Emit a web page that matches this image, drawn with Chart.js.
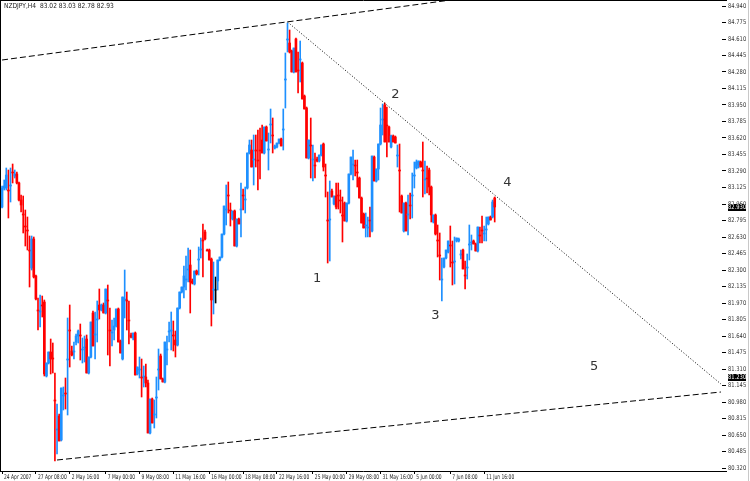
<!DOCTYPE html>
<html>
<head>
<meta charset="utf-8">
<style>
html, body { margin: 0; padding: 0; background: #fff; overflow: hidden; }
canvas { display: block; }
</style>
<script src="https://cdn.jsdelivr.net/npm/chart.js@4.4.1/dist/chart.umd.min.js"></script>
</head>
<body>
<canvas id="myChart" width="750" height="481"></canvas>
<script>
// H4 bars (one slot per bar, 341 slots across the plot)
const opens = [
  82.93, 83.12, 83.12, 83.10, 83.14, 83.28, 83.24, 83.26, 83.17, 83.00,
  82.86, 82.74, 82.70, 82.50, 82.32, 82.61, 82.24, 81.90, 81.88, 81.95,
  81.98, 81.24, 81.37, 81.48, 81.42, 81.00, 80.70, 80.84, 80.60, 81.04,
  81.07, 81.40, 81.70, 81.49, 81.48, 81.58, 81.64, 81.65, 81.50, 81.52,
  81.61, 81.27, 81.43, 81.87, 81.65, 81.80, 81.95, 81.90, 81.95, 81.87,
  82.00, 81.70, 81.67, 81.70, 81.74, 81.91, 81.59, 81.41, 82.00, 82.00,
  81.80, 81.65, 81.62, 81.67, 81.26, 81.30, 81.23, 81.23, 81.23, 81.17,
  80.67, 81.01, 80.85, 81.02, 81.30, 81.44, 81.21, 81.18, 81.50, 81.68,
  81.69, 81.65, 81.60, 81.55, 81.92, 82.08, 82.13, 82.20, 82.30, 82.35,
  82.19, 82.16, 82.29, 82.40, 82.50, 82.60, 82.68, 82.50, 82.50, 82.41,
  82.10, 82.10, 82.19, 82.40, 82.43, 82.66, 82.90, 83.05, 82.90, 82.81,
  82.89, 82.54, 82.81, 82.90, 83.05, 83.00, 83.12, 83.47, 83.50, 83.40,
  83.50, 83.40, 83.50, 83.60, 83.47, 83.73, 83.50, 83.75, 83.65, 83.52,
  83.53, 83.57, 83.61, 83.70, 84.20, 84.60, 84.57, 84.49, 84.28, 84.61,
  84.30, 84.40, 84.37, 84.04, 83.92, 83.42, 83.55, 83.40, 83.35, 83.41,
  83.39, 83.45, 83.56, 83.25, 82.80, 82.80, 83.09, 82.96, 83.04, 83.05,
  83.00, 82.85, 82.97, 82.79, 82.97, 83.26, 83.35, 83.35, 83.28, 83.22,
  83.02, 82.86, 82.74, 82.72, 82.80, 82.69, 83.43, 83.19, 83.31, 83.56,
  83.80, 83.95, 83.75, 83.73, 83.53, 83.64, 83.63, 83.44, 83.30, 83.04,
  82.69, 82.97, 82.85, 82.95, 83.04, 83.24, 83.32, 83.35, 83.38, 83.30,
  83.20, 83.22, 83.30, 83.13, 82.78, 82.85, 82.60, 82.45, 82.20, 82.33,
  82.42, 82.48, 82.55, 82.38, 82.38, 82.59, 82.59, 82.45, 82.50, 82.25,
  82.32, 82.55, 82.57, 82.59, 82.56, 82.49, 82.65, 82.70, 82.66, 82.70,
  82.76, 82.83, 82.83, 83.02
];
const highs = [
  83.14, 83.20, 83.32, 83.30, 83.32, 83.36, 83.30, 83.28, 83.18, 83.05,
  83.04, 82.90, 82.83, 82.64, 82.64, 82.63, 82.25, 82.02, 82.05, 82.04,
  82.00, 81.37, 81.48, 81.61, 81.57, 81.27, 80.96, 80.86, 81.12, 81.13,
  81.22, 81.82, 81.95, 81.54, 81.58, 81.66, 81.70, 81.76, 81.62, 81.64,
  81.65, 81.43, 81.78, 81.89, 81.88, 81.99, 82.11, 81.96, 81.97, 82.11,
  82.15, 81.92, 81.80, 81.82, 81.91, 81.92, 81.60, 82.03, 82.30, 82.08,
  81.99, 81.67, 81.67, 81.68, 81.33, 81.43, 81.41, 81.34, 81.36, 81.20,
  81.01, 81.02, 81.00, 81.23, 81.51, 81.46, 81.22, 81.58, 81.64, 81.78,
  81.88, 81.79, 81.69, 81.92, 82.08, 82.13, 82.34, 82.44, 82.52, 82.50,
  82.21, 82.29, 82.30, 82.53, 82.62, 82.76, 82.70, 82.51, 82.51, 82.42,
  82.38, 82.23, 82.40, 82.43, 82.66, 82.94, 83.15, 83.18, 82.97, 82.89,
  82.90, 82.81, 82.82, 83.17, 83.11, 83.13, 83.47, 83.60, 83.60, 83.65,
  83.65, 83.70, 83.72, 83.75, 83.73, 83.74, 83.67, 83.91, 83.82, 83.55,
  83.57, 83.61, 83.62, 83.91, 84.47, 84.77, 84.70, 84.50, 84.52, 84.62,
  84.48, 84.59, 84.38, 84.05, 83.93, 83.60, 83.82, 83.55, 83.47, 83.43,
  83.45, 83.55, 83.57, 83.36, 83.08, 83.19, 83.11, 83.04, 83.17, 83.17,
  83.10, 83.03, 82.98, 82.97, 83.26, 83.43, 83.50, 83.40, 83.40, 83.23,
  83.03, 82.87, 82.87, 82.83, 82.93, 83.44, 83.44, 83.31, 83.56, 83.92,
  83.96, 83.97, 83.93, 83.74, 83.65, 83.65, 83.64, 83.55, 83.56, 83.05,
  82.97, 82.98, 83.05, 83.07, 83.27, 83.38, 83.40, 83.39, 83.39, 83.58,
  83.39, 83.34, 83.32, 83.14, 82.85, 82.86, 82.75, 82.67, 82.42, 82.42,
  82.50, 82.59, 82.74, 82.59, 82.63, 82.62, 82.62, 82.50, 82.51, 82.39,
  82.46, 82.75, 82.65, 82.60, 82.57, 82.73, 82.73, 82.84, 82.74, 82.83,
  82.83, 82.84, 83.00, 83.03
];
const lows = [
  82.92, 83.10, 83.10, 82.82, 82.98, 83.17, 83.22, 83.16, 82.99, 82.88,
  82.67, 82.54, 82.50, 82.13, 82.30, 82.22, 82.00, 81.70, 81.73, 81.83,
  81.24, 81.23, 81.36, 81.26, 81.27, 80.39, 80.46, 80.59, 80.59, 80.90,
  80.91, 80.85, 81.33, 81.44, 81.41, 81.55, 81.57, 81.40, 81.37, 81.38,
  81.27, 81.26, 81.42, 81.54, 81.41, 81.58, 81.81, 81.89, 81.87, 81.86,
  81.45, 81.34, 81.54, 81.60, 81.73, 81.58, 81.47, 81.40, 81.82, 81.70,
  81.56, 81.62, 81.60, 81.25, 81.25, 81.22, 81.03, 81.13, 81.13, 80.67,
  80.66, 80.77, 80.72, 80.82, 81.10, 81.21, 81.18, 81.17, 81.35, 81.58,
  81.50, 81.49, 81.43, 81.54, 81.91, 82.07, 82.02, 82.10, 82.18, 81.87,
  82.16, 82.15, 82.25, 82.25, 82.42, 82.23, 82.60, 82.49, 82.40, 81.74,
  81.86, 81.97, 82.10, 82.39, 82.42, 82.65, 82.75, 82.87, 82.74, 82.80,
  82.54, 82.53, 82.76, 82.63, 82.90, 82.87, 83.11, 83.46, 83.33, 83.15,
  83.33, 83.10, 83.21, 83.47, 83.46, 83.59, 83.30, 83.57, 83.47, 83.51,
  83.52, 83.56, 83.54, 83.50, 83.92, 84.48, 84.47, 84.28, 84.27, 84.28,
  84.07, 84.18, 84.01, 83.91, 83.42, 83.41, 83.22, 83.19, 83.22, 83.38,
  83.38, 83.44, 83.29, 83.03, 82.37, 82.39, 83.03, 82.95, 82.91, 82.91,
  82.87, 82.58, 82.79, 82.78, 82.96, 83.25, 83.20, 83.24, 83.13, 83.02,
  82.77, 82.72, 82.63, 82.63, 82.63, 82.68, 83.19, 83.18, 83.20, 83.55,
  83.65, 83.58, 83.43, 83.58, 83.52, 83.58, 83.57, 83.33, 82.88, 82.87,
  82.68, 82.69, 82.65, 82.81, 82.82, 83.12, 83.31, 83.32, 83.33, 83.03,
  83.06, 83.07, 83.05, 82.78, 82.77, 82.65, 82.43, 82.20, 81.99, 82.32,
  82.41, 82.47, 82.33, 82.15, 82.16, 82.58, 82.58, 82.41, 82.31, 82.11,
  82.21, 82.40, 82.50, 82.56, 82.49, 82.48, 82.57, 82.57, 82.59, 82.59,
  82.75, 82.80, 82.82, 82.78
];
const closes = [
  83.12, 83.14, 83.25, 83.09, 83.15, 83.27, 83.26, 83.17, 83.00, 82.95,
  82.85, 82.73, 82.69, 82.49, 82.61, 82.23, 82.01, 81.89, 81.89, 81.94,
  81.26, 81.37, 81.48, 81.41, 81.41, 80.99, 80.71, 80.59, 81.12, 81.05,
  81.06, 81.41, 81.69, 81.45, 81.49, 81.64, 81.69, 81.64, 81.51, 81.53,
  81.27, 81.43, 81.78, 81.54, 81.66, 81.81, 81.90, 81.95, 81.87, 82.11,
  81.99, 81.69, 81.68, 81.74, 81.91, 81.58, 81.47, 82.03, 82.01, 81.99,
  81.79, 81.63, 81.67, 81.25, 81.33, 81.31, 81.22, 81.24, 81.17, 80.67,
  81.01, 80.77, 80.86, 81.03, 81.31, 81.21, 81.18, 81.58, 81.51, 81.69,
  81.70, 81.64, 81.55, 81.92, 82.08, 82.13, 82.24, 82.21, 82.31, 82.18,
  82.17, 82.29, 82.26, 82.41, 82.51, 82.59, 82.61, 82.49, 82.40, 82.00,
  82.11, 82.10, 82.40, 82.43, 82.66, 82.94, 82.91, 83.04, 82.89, 82.89,
  82.54, 82.81, 82.76, 82.91, 83.04, 83.01, 83.47, 83.55, 83.33, 83.41,
  83.49, 83.39, 83.49, 83.47, 83.73, 83.59, 83.51, 83.76, 83.64, 83.54,
  83.57, 83.61, 83.54, 83.71, 84.21, 84.61, 84.48, 84.28, 84.52, 84.28,
  84.29, 84.41, 84.01, 83.91, 83.42, 83.60, 83.54, 83.41, 83.34, 83.39,
  83.45, 83.55, 83.33, 83.24, 82.79, 82.81, 83.03, 83.04, 82.93, 83.04,
  82.99, 82.84, 82.79, 82.97, 83.26, 83.43, 83.36, 83.34, 83.27, 83.02,
  82.77, 82.72, 82.75, 82.73, 82.79, 83.44, 83.19, 83.31, 83.56, 83.75,
  83.81, 83.58, 83.74, 83.58, 83.64, 83.58, 83.57, 83.45, 83.29, 82.87,
  82.97, 82.69, 82.86, 82.94, 83.05, 83.25, 83.38, 83.39, 83.33, 83.29,
  83.21, 83.21, 83.13, 82.85, 82.85, 82.66, 82.59, 82.44, 82.21, 82.42,
  82.50, 82.59, 82.54, 82.37, 82.39, 82.62, 82.61, 82.46, 82.31, 82.24,
  82.33, 82.56, 82.58, 82.56, 82.49, 82.73, 82.64, 82.69, 82.67, 82.71,
  82.83, 82.80, 82.98, 82.93
];

// time axis labels and the slots they sit on
const xTickSlots = [0, 16, 32, 49, 65, 81, 98, 114, 130, 147, 163, 179, 195, 212, 228];
const xTickLabels = ["24 Apr 2007", "27 Apr 08:00", "2 May 16:00", "7 May 00:00", "9 May 08:00",
  "11 May 16:00", "16 May 00:00", "18 May 08:00", "22 May 16:00", "25 May 00:00",
  "29 May 08:00", "31 May 16:00", "5 Jun 00:00", "7 Jun 08:00", "11 Jun 16:00"];

// price axis labels
const yTickValues = [80.32, 80.485, 80.65, 80.815, 80.98, 81.145, 81.31, 81.475, 81.64, 81.805,
  81.97, 82.135, 82.30, 82.465, 82.63, 82.795, 82.96, 83.125, 83.29, 83.455,
  83.62, 83.785, 83.95, 84.115, 84.28, 84.445, 84.61, 84.775, 84.94];

// trend lines (slot, price)
const upperLineSlots = [0, 230];
const upperLinePrices = [84.40, 85.05];
const lowerLineSlots = [26, 340];
const lowerLinePrices = [80.40, 81.08];
const fanLineSlots = [135, 340];
const fanLinePrices = [84.78, 81.16];

// wave counts
const waveLabels = ["1", "2", "3", "4", "5"];
const waveSlots = [149, 186, 205, 239, 280];
const wavePrices = [82.21, 84.05, 81.84, 83.17, 81.33];

// black price boxes on the right axis
const priceMarks = [82.93, 81.23];

const symbolTitle = "NZDJPY,H4  83.02 83.03 82.78 82.93";

const upColor = '#1E90FF';
const downColor = '#FF0000';
const smallFont = '"DejaVu Sans", sans-serif';

function barColor(i) {
    if (closes[i] > opens[i]) return upColor;
    if (closes[i] < opens[i]) return downColor;
    return '#000000';
}
const colors = opens.map((o, i) => barColor(i));

function linePoints(slots, prices) {
    return slots.map((s, i) => ({x: s, y: prices[i]}));
}

// squeezed text, a bit like the terminal's pixel font
function smallText(ctx, text, px, py, squeeze) {
    ctx.save();
    ctx.translate(px, py);
    ctx.scale(squeeze, 1);
    ctx.fillText(text, 0, 0);
    ctx.restore();
}

const overlays = {
    id: 'overlays',
    afterDatasetsDraw(chart) {
        const {ctx} = chart;
        const x = chart.scales.x, y = chart.scales.y;
        ctx.save();
        ctx.fillStyle = '#333';
        ctx.font = '13px "DejaVu Sans"';
        ctx.textAlign = 'center';
        ctx.textBaseline = 'middle';
        waveLabels.forEach((t, i) => {
            ctx.fillText(t, x.getPixelForValue(waveSlots[i]), y.getPixelForValue(wavePrices[i]));
        });
        ctx.restore();
    },
    afterDraw(chart) {
        const {ctx, chartArea} = chart;
        const x = chart.scales.x, y = chart.scales.y;
        ctx.save();
        ctx.strokeStyle = '#000';
        ctx.lineWidth = 1;
        ctx.beginPath();
        ctx.moveTo(0, 0.5);
        ctx.lineTo(chartArea.right + 5, 0.5);
        ctx.moveTo(0.5, 0);
        ctx.lineTo(0.5, chartArea.bottom + 1);
        ctx.moveTo(0, chartArea.bottom + 0.5);
        ctx.lineTo(chartArea.right + 5, chartArea.bottom + 0.5);
        ctx.stroke();
        ctx.strokeStyle = '#c8c8c8';
        ctx.beginPath();
        ctx.moveTo(748.5, 0);
        ctx.lineTo(748.5, chart.height);
        ctx.stroke();

        ctx.font = '7px ' + smallFont;
        ctx.textBaseline = 'middle';
        ctx.textAlign = 'left';
        ctx.fillStyle = '#222';
        smallText(ctx, symbolTitle, 4, 6, 0.85);

        // time labels to the right of each tick mark
        ctx.font = '6.5px ' + smallFont;
        xTickSlots.forEach((s, i) => {
            smallText(ctx, xTickLabels[i], x.getPixelForValue(s) + 2, chartArea.bottom + 6, 0.68);
        });

        // price labels
        ctx.fillStyle = '#333';
        ctx.font = '6.5px ' + smallFont;
        yTickValues.forEach(v => {
            smallText(ctx, v.toFixed(3), chartArea.right + 6, y.getPixelForValue(v), 0.8);
        });

        // price boxes
        priceMarks.forEach(v => {
            const py = Math.round(y.getPixelForValue(v));
            ctx.fillStyle = '#000';
            ctx.fillRect(chartArea.right + 6, py - 3, 18, 7);
            ctx.fillStyle = '#fff';
            smallText(ctx, v.toFixed(3), chartArea.right + 6, py + 0.5, 0.8);
        });
        ctx.restore();
    }
};

function renderChart() {
    const ctx = document.getElementById("myChart").getContext('2d');
    new Chart(ctx, {
        data: {
            datasets: [{
                type: 'bar',
                label: 'shadow',
                data: lows.map((l, i) => ({x: i, y: [l, highs[i]]})),
                backgroundColor: colors,
                barThickness: 1,
                grouped: false,
                order: 2
            }, {
                type: 'bar',
                label: 'body',
                data: opens.map((o, i) => ({x: i, y: [o, closes[i]]})),
                backgroundColor: colors,
                barThickness: 2,
                grouped: false,
                order: 1
            }, {
                type: 'line',
                label: 'upper',
                data: linePoints(upperLineSlots, upperLinePrices),
                borderColor: '#000',
                borderWidth: 1,
                borderDash: [6, 3],
                pointRadius: 0,
                order: 0
            }, {
                type: 'line',
                label: 'lower',
                data: linePoints(lowerLineSlots, lowerLinePrices),
                borderColor: '#000',
                borderWidth: 1,
                borderDash: [6, 3],
                pointRadius: 0,
                order: 0
            }, {
                type: 'line',
                label: 'fan',
                data: linePoints(fanLineSlots, fanLinePrices),
                borderColor: '#000',
                borderWidth: 1,
                borderDash: [1, 2],
                pointRadius: 0,
                order: 0
            }]
        },
        options: {
            responsive: false,
            animation: false,
            devicePixelRatio: 1,
            layout: {padding: {left: 1, right: 0, top: 0, bottom: 0}},
            plugins: {
                legend: {display: false},
                tooltip: {enabled: false}
            },
            scales: {
                x: {
                    type: 'linear',
                    offset: false,
                    min: -0.5,
                    max: 340.5,
                    afterBuildTicks: axis => { axis.ticks = xTickSlots.map(v => ({value: v})); },
                    afterFit: axis => { axis.height = 10; },
                    grid: {display: true, offset: false, drawOnChartArea: false, drawTicks: true, tickLength: 3, color: '#000'},
                    border: {display: false},
                    ticks: {display: false}
                },
                y: {
                    type: 'linear',
                    position: 'right',
                    min: 80.29,
                    max: 85.00,
                    afterBuildTicks: axis => { axis.ticks = yTickValues.map(v => ({value: v})); },
                    afterFit: axis => { axis.width = 28; },
                    grid: {display: true, drawOnChartArea: false, drawTicks: true, tickLength: 4, color: '#000'},
                    border: {display: false},
                    ticks: {display: false}
                }
            }
        },
        plugins: [overlays]
    });
}

renderChart();
</script>
</body>
</html>
